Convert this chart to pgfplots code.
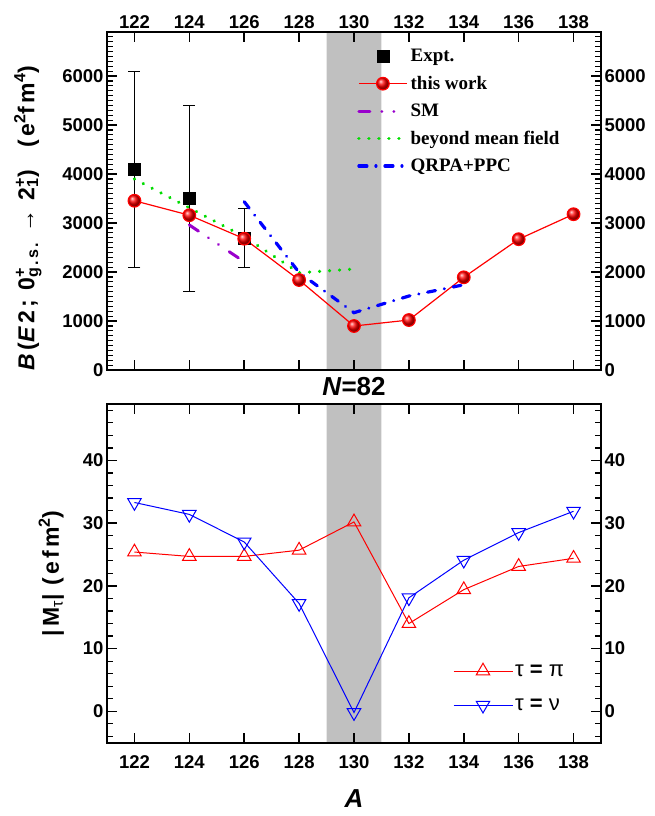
\documentclass[border=0pt]{standalone}
\usepackage{fontspec}
\setmainfont{Liberation Sans}
\newfontfamily\timesfont{Liberation Serif}
\usepackage{pgfplots}
\pgfplotsset{compat=1.18}

\definecolor{smpurple}{RGB}{153,0,204}
\definecolor{bmfgreen}{RGB}{0,220,0}
\definecolor{bandgray}{RGB}{192,192,192}

\newcommand{\tickfont}{\bfseries\fontsize{18.5}{20}\selectfont}

\pgfplotsset{
  panel/.style={
    scale only axis, width=494pt,
    xmin=121, xmax=139, xtick={122,124,...,138},
    tick align=inside,
    axis line style={line width=1.8pt},
    major tick length=10pt, minor tick length=6pt,
    major tick style={line width=1.6pt, black},
    minor tick style={line width=1.2pt, black},
    tick label style={font=\tickfont},
    /pgf/number format/assume math mode=true,
    /pgf/number format/1000 sep={},
    axis on top,
  },
  upper/.style={panel, height=338pt,
    ymin=0, ymax=6900, ytick={0,1000,...,6000}, minor ytick={100,200,...,6900}},
  lower/.style={panel, at={(0pt,-372.7pt)}, height=338.7pt,
    ymin=-5, ymax=49, ytick={0,10,...,40}, minor ytick={-4,-2,...,48}},
}

\begin{document}
\begin{tikzpicture}
\useasboundingbox (-107pt,-446pt) rectangle (548pt,370pt);

% ---------- upper panel: B(E2) ----------
\begin{axis}[upper, name=top,
  xticklabel pos=upper,
  ylabel={\bfseries\fontsize{23}{26}\selectfont\addfontfeature{LetterSpace=14}\textit{B}(\textit{E}2;\ 0\rlap{\textsuperscript{+}}\textsubscript{g.s.}\ →\ 2\rlap{\textsuperscript{+}}\textsubscript{1})\quad(e\textsuperscript{2}fm\textsuperscript{4})},
  ylabel style={at={(ticklabel cs:0.45)}},
  ylabel shift=14pt,
  legend style={at={(axis description cs:0.506,0.955)}, anchor=north west,
    draw=none, fill=none, inner sep=0pt, row sep=9pt,
    font=\timesfont\bfseries\fontsize{19}{22}\selectfont},
  legend cell align=left,
  legend image code/.code={\draw[mark repeat=2,mark phase=2,#1] plot coordinates {(0pt,0pt) (24pt,0pt) (48pt,0pt)};},
]
\addplot[draw=none, fill=bandgray, forget plot] coordinates {(129,0) (131,0) (131,6900) (129,6900) (129,0)};

\addplot[only marks, black, mark=square*, mark size=6pt,
  error bars/.cd, y dir=both, y explicit,
  error bar style={line width=0.9pt},
  error mark options={rotate=90, mark size=6pt, line width=0.9pt}]
  coordinates {(122,4100) +- (0,2000) (124,3500) +- (0,1900) (126,2700) +- (0,600)};
\addlegendentry{Expt.}

\addplot[red, line width=1.2pt, mark=ball, mark size=6.3pt, mark options={ball color=red},
  legend image code/.code={
    \draw[red, line width=1.2pt] (0pt,0pt) -- (48pt,0pt);
    \draw[red, mark=ball, mark size=6.3pt, mark options={ball color=red}] plot coordinates {(24pt,0pt)};}]
  coordinates {(122,3455) (124,3160) (126,2680) (128,1837) (130,898) (132,1020) (134,1892) (136,2670) (138,3180)};
\addlegendentry{this work}

\addplot[smpurple, line width=3pt, line cap=round, dash pattern=on 11pt off 12pt on 0.01pt off 12pt on 0.01pt off 13pt]
  coordinates {(124,2960) (126,2210)};
\addlegendentry{SM}

\addplot[bmfgreen, line width=3.5pt, line cap=round, dash pattern=on 0.01pt off 10pt]
  coordinates {(122,3900) (124,3310) (126,2720) (128,1985) (130,2060)};
\addlegendentry{beyond mean field}

\addplot[blue, line width=3.2pt, line cap=round, dash pattern=on 8pt off 9pt on 0.01pt off 9pt]
  coordinates {(126,3435) (128,1990) (130,1170) (132,1510) (134,1740)};
\addlegendentry{QRPA+PPC}
\end{axis}

\begin{axis}[upper, axis y line*=right, axis x line=none]
\end{axis}

% ---------- lower panel: |M_tau| ----------
\begin{axis}[lower, name=bottom,
  xticklabel style={yshift=-9pt},
  xlabel={\bfseries\itshape\fontsize{26}{28}\selectfont A},
  xlabel shift=14pt,
  ylabel={\bfseries\fontsize{23}{26}\selectfont\addfontfeature{LetterSpace=13}|M\textsubscript{\mdseries τ}|\ (efm\textsuperscript{2})},
  ylabel shift=12pt,
  legend style={at={(axis description cs:0.700,0.085)}, anchor=south west,
    draw=none, fill=none, inner sep=0pt, row sep=17pt,
    font=\fontsize{22}{24}\selectfont},
  legend cell align=left,
  legend image code/.code={\draw[mark repeat=2,mark phase=2,#1] plot coordinates {(0pt,0pt) (29.5pt,0pt) (59pt,0pt)};},
]
\addplot[draw=none, fill=bandgray, forget plot] coordinates {(129,-5) (131,-5) (131,49) (129,49) (129,-5)};

\addplot[red, line width=1pt, mark=triangle, mark size=7.8pt, mark options={solid, line width=1pt}]
  coordinates {(122,25.4) (124,24.7) (126,24.7) (128,25.7) (130,30.2) (132,14.0) (134,19.4) (136,23.1) (138,24.4)};
\addlegendentry{τ\ \textbf{=}\ π}

\addplot[blue, line width=1pt, mark=triangle, mark size=7.8pt, mark options={solid, line width=1pt, rotate=180}]
  coordinates {(122,33.3) (124,31.4) (126,27.0) (128,17.2) (130,-0.2) (132,18.1) (134,24.1) (136,28.5) (138,31.9)};
\addlegendentry{τ\ \textbf{=}\ ν}
\end{axis}

\begin{axis}[lower, axis y line*=right, axis x line=none]
\end{axis}

\node[font=\bfseries\fontsize{26}{28}\selectfont] at (247pt,-17pt) {\textit{N}=82};
\end{tikzpicture}
\end{document}
